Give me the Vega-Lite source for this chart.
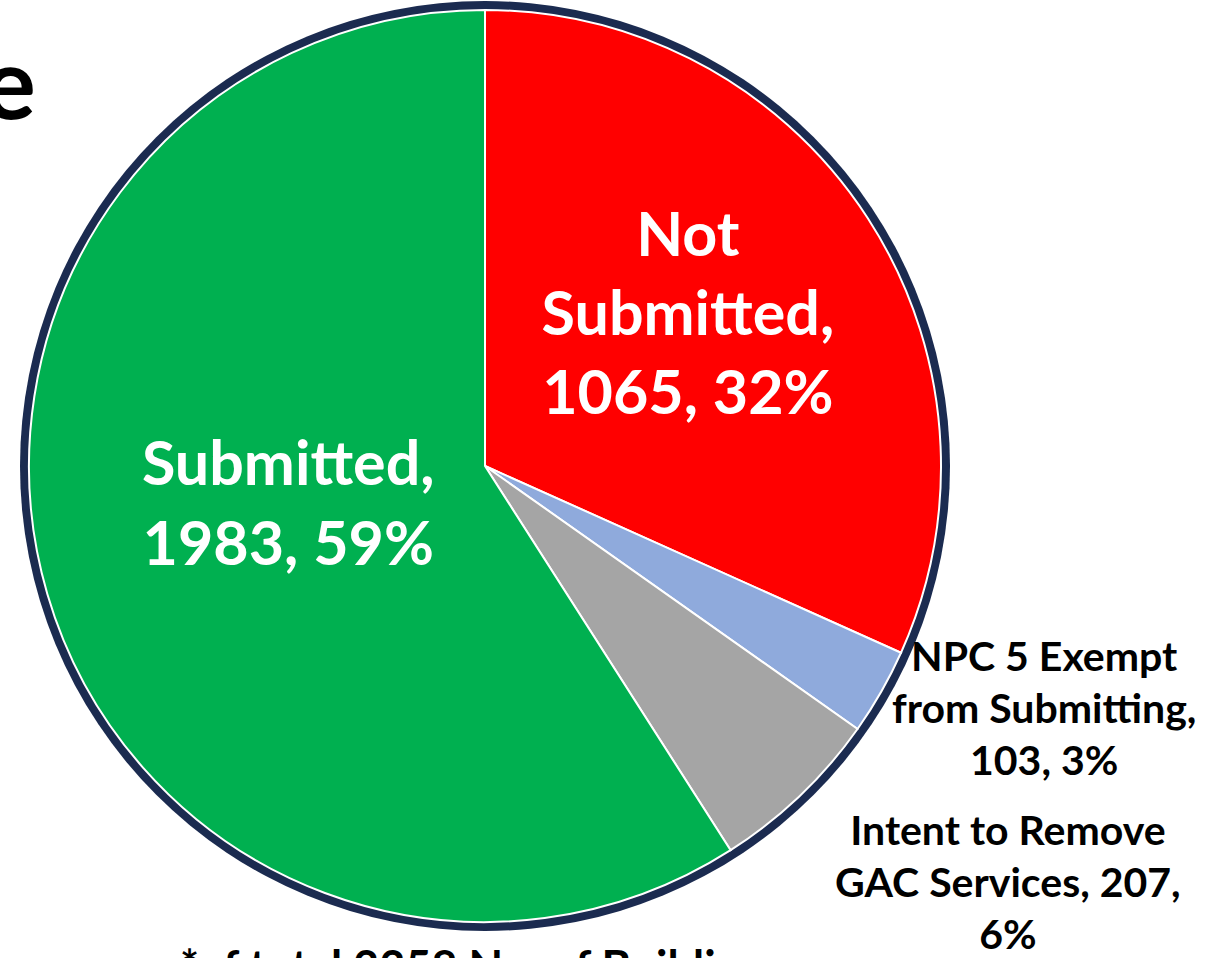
{
  "$schema": "https://vega.github.io/schema/vega-lite/v6.json",
  "width": 970,
  "height": 932,
  "padding": {"left": 0, "top": 0, "right": 246, "bottom": 26},
  "autosize": {"type": "none"},
  "background": "white",
  "config": {"view": {"stroke": null}},
  "datasets": {
    "slices": [
      {"category": "Not Submitted", "count": 1065, "rank": 1, "label": "Not\nSubmitted,\n1065, 32%"},
      {"category": "NPC 5 Exempt from Submitting", "count": 103, "rank": 2, "label": "NPC 5 Exempt\nfrom Submitting,\n103, 3%"},
      {"category": "Intent to Remove GAC Services", "count": 207, "rank": 3, "label": "Intent to Remove\nGAC Services, 207,\n6%"},
      {"category": "Submitted", "count": 1983, "rank": 4, "label": "Submitted,\n1983, 59%"}
    ],
    "ring": [{"part": "border"}],
    "heading": [{"fragment": "e"}],
    "footnote": [{"note": "*of total 3358 No. of Buildings"}]
  },
  "data": {"name": "slices"},
  "layer": [
    {
      "data": {"name": "ring"},
      "mark": {"type": "arc", "theta": 0, "theta2": 6.2832, "radius": 465, "fill": "#1B2B50"},
      "encoding": {}
    },
    {
      "mark": {"type": "arc", "radius": 456, "stroke": "white", "strokeWidth": 2},
      "encoding": {
        "theta": {"field": "count", "type": "quantitative", "stack": true},
        "order": {"field": "rank", "type": "quantitative"},
        "color": {
          "field": "category",
          "type": "nominal",
          "scale": {
            "domain": ["Not Submitted", "NPC 5 Exempt from Submitting", "Intent to Remove GAC Services", "Submitted"],
            "range": ["#FF0000", "#8FAADC", "#A5A5A5", "#00B050"]
          },
          "legend": null
        }
      }
    },
    {
      "mark": {"type": "text", "radius": 250, "dx": -7, "dy": -92, "font": "Lato", "fontSize": 61, "fontWeight": "bold", "fill": "white", "lineBreak": "\n", "lineHeight": 79, "align": "center", "baseline": "middle"},
      "encoding": {
        "theta": {"field": "count", "type": "quantitative", "stack": true},
        "order": {"field": "rank", "type": "quantitative"},
        "text": {"condition": {"test": "datum.category === 'Not Submitted'", "field": "label", "type": "nominal"}, "value": ""}
      }
    },
    {
      "mark": {"type": "text", "radius": 205, "dx": 0, "dy": -57, "font": "Lato", "fontSize": 61, "fontWeight": "bold", "fill": "white", "lineBreak": "\n", "lineHeight": 80, "align": "center", "baseline": "middle"},
      "encoding": {
        "theta": {"field": "count", "type": "quantitative", "stack": true},
        "order": {"field": "rank", "type": "quantitative"},
        "text": {"condition": {"test": "datum.category === 'Submitted'", "field": "label", "type": "nominal"}, "value": ""}
      }
    },
    {
      "mark": {"type": "text", "radius": 600, "dx": 38, "dy": -104, "font": "Lato", "fontSize": 41, "fontWeight": "bold", "fill": "black", "lineBreak": "\n", "lineHeight": 52, "align": "center", "baseline": "middle"},
      "encoding": {
        "theta": {"field": "count", "type": "quantitative", "stack": true},
        "order": {"field": "rank", "type": "quantitative"},
        "text": {"condition": {"test": "datum.category === 'NPC 5 Exempt from Submitting'", "field": "label", "type": "nominal"}, "value": ""}
      }
    },
    {
      "mark": {"type": "text", "radius": 660, "dx": 67, "dy": -110, "font": "Lato", "fontSize": 41, "fontWeight": "bold", "fill": "black", "lineBreak": "\n", "lineHeight": 52, "align": "center", "baseline": "middle"},
      "encoding": {
        "theta": {"field": "count", "type": "quantitative", "stack": true},
        "order": {"field": "rank", "type": "quantitative"},
        "text": {"condition": {"test": "datum.category === 'Intent to Remove GAC Services'", "field": "label", "type": "nominal"}, "value": ""}
      }
    },
    {
      "data": {"name": "heading"},
      "mark": {"type": "text", "font": "Lato", "fontSize": 100, "fontWeight": "bold", "fill": "black", "align": "right", "baseline": "alphabetic"},
      "encoding": {
        "text": {"field": "fragment", "type": "nominal"},
        "x": {"value": 36},
        "y": {"value": 119}
      }
    },
    {
      "data": {"name": "footnote"},
      "mark": {"type": "text", "font": "Lato", "fontSize": 45, "fontWeight": "bold", "fill": "black", "align": "left", "baseline": "alphabetic"},
      "encoding": {
        "text": {"field": "note", "type": "nominal"},
        "x": {"value": 180},
        "y": {"value": 983}
      }
    }
  ]
}
